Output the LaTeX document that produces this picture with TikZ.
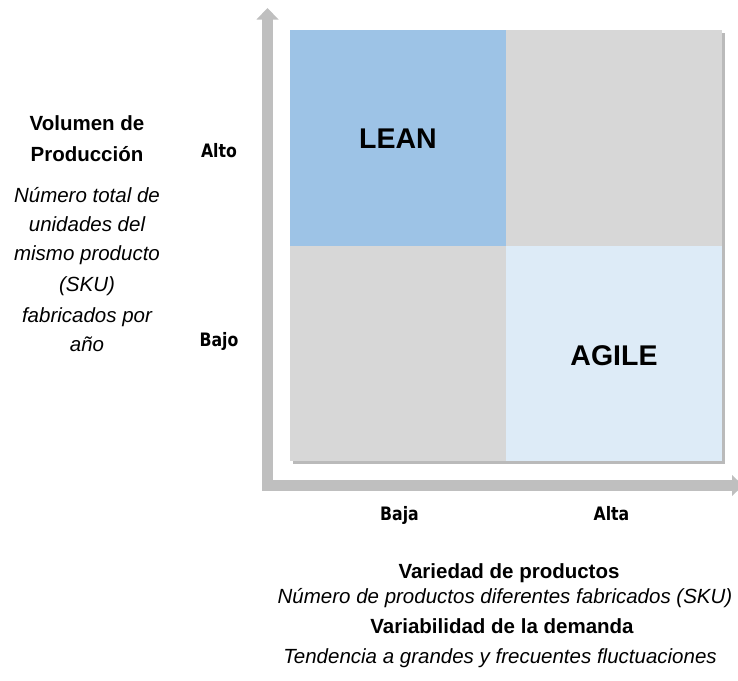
\documentclass[tikz,border=0pt]{standalone}
\usepackage{fontspec}
\setmainfont{Liberation Sans}
\newfontfamily\axfont[FakeStretch=0.85]{DejaVu Sans}
\usetikzlibrary{shadows}
\definecolor{leanblue}{HTML}{9DC3E6}
\definecolor{agileblue}{HTML}{DDEBF7}
\definecolor{quadgray}{HTML}{D7D7D7}
\definecolor{axisgray}{HTML}{BFBFBF}
\tikzset{
  quad/.style={draw=none, minimum width=216pt, minimum height=215.5pt, inner sep=0pt, outer sep=0pt, anchor=north west},
  big/.style={font=\fontsize{28.5}{30}\selectfont\bfseries, anchor=base, inner sep=0pt},
  ttl/.style={font=\fontsize{20.5}{24}\selectfont\bfseries, anchor=base, inner sep=0pt},
  sub/.style={font=\fontsize{20.5}{24}\selectfont\itshape, anchor=base, inner sep=0pt},
  lvl/.style={font=\axfont\fontsize{18.5}{20}\selectfont\bfseries, anchor=base, inner sep=0pt},
}
\begin{document}
\begin{tikzpicture}[x=1pt, y=-1pt]
\useasboundingbox (0,0) rectangle (738,680);
% grid with shadow
\fill[white, drop shadow={shadow xshift=3pt, shadow yshift=-3pt, opacity=0.45, fill=black!60}] (290,30) rectangle (722,461);
\node[quad, fill=leanblue] (q1) at (290,30) {};
\node[quad, fill=quadgray] (q2) at (506,30) {};
\node[quad, fill=quadgray] (q3) at (290,245.5) {};
\node[quad, fill=agileblue] (q4) at (506,245.5) {};
\node[big] (lean) at (398,148.3) {LEAN};
\node[big] (agile) at (614,365) {AGILE};
% axes
\fill[axisgray] (262,19) rectangle (273,491);
\fill[axisgray] (256.5,19.5) -- (267.5,8) -- (278.5,19.5) -- cycle;
\fill[axisgray] (262,480) rectangle (732,491);
\fill[axisgray] (732,475) -- (738,480.7) -- (738,490.3) -- (732,496) -- cycle;
% left labels
\node[ttl] (v1) at (87,130.5) {Volumen de};
\node[ttl] (v2) at (87,161.5) {Producción};
\node[sub] (s1) at (87,202) {Número total de};
\node[sub] (s2) at (87,231) {unidades del};
\node[sub] (s3) at (87,260.5) {mismo producto};
\node[sub] (s4) at (87,291) {(SKU)};
\node[sub] (s5) at (87,322.5) {fabricados por};
\node[sub] (s6) at (87,351.5) {año};
\node[lvl] (alto) at (219,157.3) {Alto};
\node[lvl] (bajo) at (219,346) {Bajo};
\node[lvl] (baja) at (399.5,520.7) {Baja};
\node[lvl] (alta) at (611.5,520.7) {Alta};
% bottom labels
\node[ttl] (b1) at (509,578.3) {Variedad de productos};
\node[sub] (b2) at (505,603.3) {Número de productos diferentes fabricados (SKU)};
\node[ttl] (b3) at (502,633.3) {Variabilidad de la demanda};
\node[sub] (b4) at (500,663.3) {Tendencia a grandes y frecuentes fluctuaciones};
\end{tikzpicture}
\end{document}
